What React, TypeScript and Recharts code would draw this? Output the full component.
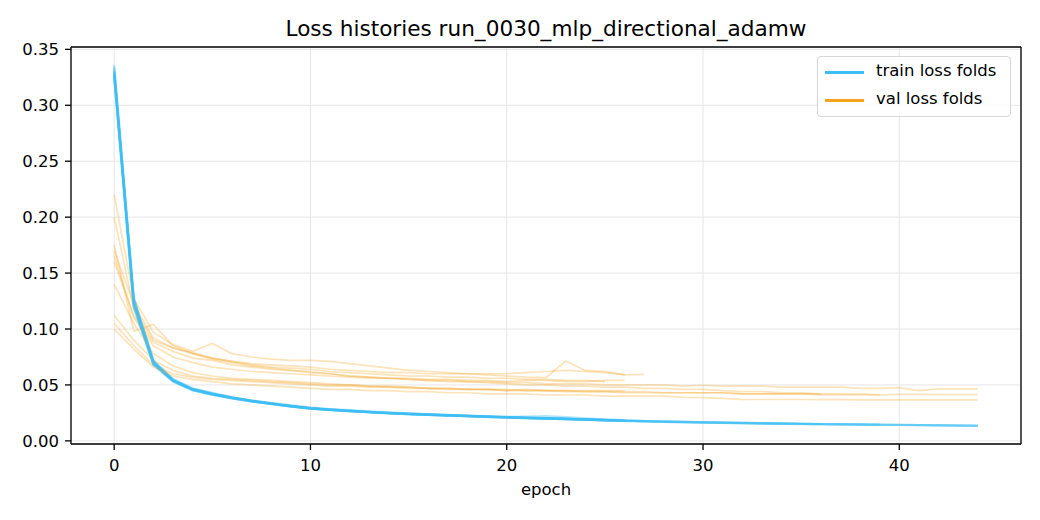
import { LineChart, Line, XAxis, YAxis, CartesianGrid } from "recharts";

const TRAIN_COLOR = "#3dbdf5";
const VAL_COLOR = "#f6a31c";
const FONT = "'DejaVu Sans', sans-serif";

const epochs = Array.from({ length: 45 }, (_, i) => i);
const xTicks = [0, 10, 20, 30, 40];
const yTicks = [0, 0.05, 0.1, 0.15, 0.2, 0.25, 0.3, 0.35];

// train loss per fold (epoch 0 .. last epoch of that fold)
const train01 = [0.334, 0.128, 0.071, 0.055, 0.047, 0.043, 0.039, 0.036, 0.034, 0.032, 0.03, 0.0285, 0.0275, 0.0265, 0.0255, 0.0245, 0.024, 0.0233, 0.0226, 0.022, 0.0214, 0.0208, 0.0203, 0.0198, 0.0193, 0.0188];
const train02 = [0.326, 0.12, 0.068, 0.053, 0.045, 0.041, 0.038, 0.035, 0.033, 0.0305, 0.0287, 0.0275, 0.0265, 0.0256, 0.0246, 0.0238, 0.0232, 0.0226, 0.022, 0.0213, 0.0208, 0.0203, 0.0199, 0.0195, 0.019, 0.0184, 0.018];
const train03 = [0.33, 0.124, 0.07, 0.054, 0.046, 0.042, 0.0385, 0.0358, 0.0333, 0.031, 0.0292, 0.028, 0.027, 0.026, 0.025, 0.0243, 0.0237, 0.023, 0.0225, 0.022, 0.0215, 0.0218, 0.0222, 0.0212, 0.0202, 0.0193, 0.0186];
const train04 = [0.328, 0.126, 0.072, 0.055, 0.046, 0.042, 0.0388, 0.036, 0.0336, 0.0312, 0.0293, 0.0279, 0.0268, 0.0258, 0.0249, 0.0241, 0.0235, 0.0229, 0.0223, 0.0217, 0.0211, 0.0206, 0.0201, 0.0196, 0.0191, 0.0186, 0.0181];
const train05 = [0.332, 0.122, 0.069, 0.0535, 0.0455, 0.0415, 0.038, 0.0352, 0.033, 0.0308, 0.029, 0.0277, 0.0266, 0.0256, 0.0247, 0.0239, 0.0232, 0.0226, 0.022, 0.0214, 0.0209, 0.0204, 0.0199, 0.0194, 0.0189, 0.0184, 0.018, 0.0176];
const train06 = [0.329, 0.125, 0.07, 0.054, 0.046, 0.042, 0.0384, 0.0356, 0.0332, 0.031, 0.029, 0.0278, 0.0267, 0.0257, 0.0248, 0.024, 0.0234, 0.0228, 0.0222, 0.0216, 0.021, 0.0205, 0.02, 0.0195, 0.019, 0.0184, 0.018, 0.0176, 0.0172, 0.0169, 0.0166, 0.0163, 0.016, 0.0158, 0.0155, 0.0153, 0.0151];
const train07 = [0.327, 0.121, 0.069, 0.0538, 0.0458, 0.0418, 0.0383, 0.0355, 0.0331, 0.0309, 0.0289, 0.0277, 0.0266, 0.0256, 0.0247, 0.0239, 0.0233, 0.0227, 0.0221, 0.0215, 0.021, 0.0205, 0.0201, 0.0197, 0.0193, 0.0188, 0.0183, 0.0178, 0.0174, 0.017, 0.0167, 0.0164, 0.0161, 0.0158, 0.0156, 0.0153, 0.0151, 0.0149, 0.0147, 0.0145];
const train08 = [0.331, 0.123, 0.07, 0.054, 0.046, 0.0419, 0.0386, 0.0357, 0.0334, 0.0311, 0.0291, 0.0279, 0.0268, 0.0258, 0.0249, 0.0241, 0.0235, 0.0229, 0.0223, 0.0217, 0.0211, 0.0206, 0.0201, 0.0196, 0.0191, 0.0185, 0.0179, 0.0174, 0.017, 0.0167, 0.0164, 0.0161, 0.0158, 0.0156, 0.0154, 0.0152, 0.015, 0.0148, 0.0146, 0.0144, 0.0143, 0.0141, 0.0139, 0.0137, 0.0135];
const train09 = [0.325, 0.119, 0.068, 0.0532, 0.0452, 0.0413, 0.0381, 0.0354, 0.0331, 0.0309, 0.0289, 0.0276, 0.0265, 0.0255, 0.0246, 0.0238, 0.0232, 0.0226, 0.022, 0.0214, 0.0209, 0.0204, 0.0199, 0.0194, 0.0189, 0.0183, 0.0178, 0.0173, 0.0169, 0.0166, 0.0163, 0.016, 0.0157, 0.0155, 0.0152, 0.015, 0.0148, 0.0146, 0.0145, 0.0143, 0.0142, 0.014, 0.0138, 0.0136, 0.0134];
const train10 = [0.336, 0.127, 0.071, 0.0545, 0.0465, 0.0425, 0.039, 0.036, 0.0336, 0.0314, 0.0294, 0.0281, 0.027, 0.026, 0.0251, 0.0243, 0.0236, 0.023, 0.0224, 0.0218, 0.0213, 0.0208, 0.0203, 0.0198, 0.0193, 0.0187, 0.0181, 0.0176, 0.0172, 0.0169, 0.0166, 0.0163, 0.016, 0.0157, 0.0155, 0.0153, 0.0151, 0.0149, 0.0147, 0.0145, 0.0144, 0.0142, 0.014, 0.0138, 0.0136];

// validation loss per fold
const val01 = [0.175, 0.098, 0.104, 0.085, 0.078, 0.074, 0.071, 0.068, 0.066, 0.065, 0.064, 0.062, 0.061, 0.06, 0.059, 0.058, 0.058, 0.057, 0.057, 0.056, 0.056, 0.055, 0.055, 0.054, 0.054, 0.053];
const val02 = [0.22, 0.127, 0.097, 0.086, 0.08, 0.087, 0.078, 0.075, 0.073, 0.072, 0.072, 0.071, 0.069, 0.067, 0.065, 0.063, 0.062, 0.061, 0.06, 0.059, 0.058, 0.057, 0.0566, 0.0714, 0.063, 0.062, 0.059];
const val03 = [0.16, 0.112, 0.088, 0.08, 0.074, 0.072, 0.068, 0.066, 0.064, 0.063, 0.061, 0.06, 0.058, 0.057, 0.056, 0.056, 0.055, 0.055, 0.054, 0.054, 0.053, 0.054, 0.054, 0.053, 0.053, 0.054, 0.054];
const val04 = [0.105, 0.085, 0.068, 0.06, 0.057, 0.055, 0.054, 0.053, 0.052, 0.051, 0.05, 0.049, 0.049, 0.048, 0.048, 0.047, 0.047, 0.046, 0.046, 0.046, 0.045, 0.046, 0.045, 0.045, 0.045, 0.045, 0.045];
const val05 = [0.2, 0.118, 0.09, 0.083, 0.079, 0.074, 0.071, 0.069, 0.068, 0.067, 0.066, 0.064, 0.063, 0.062, 0.061, 0.061, 0.06, 0.06, 0.06, 0.06, 0.06, 0.061, 0.062, 0.063, 0.062, 0.061, 0.059, 0.0595];
const val06 = [0.17, 0.122, 0.092, 0.083, 0.078, 0.073, 0.07, 0.067, 0.065, 0.063, 0.062, 0.06, 0.058, 0.057, 0.056, 0.055, 0.054, 0.053, 0.053, 0.052, 0.051, 0.05, 0.05, 0.049, 0.049, 0.048, 0.048, 0.047, 0.047, 0.046, 0.046, 0.045, 0.044, 0.044, 0.043, 0.043, 0.042];
const val07 = [0.112, 0.09, 0.072, 0.063, 0.058, 0.056, 0.055, 0.054, 0.053, 0.052, 0.051, 0.05, 0.05, 0.049, 0.048, 0.048, 0.047, 0.047, 0.046, 0.046, 0.046, 0.045, 0.045, 0.045, 0.044, 0.044, 0.044, 0.044, 0.043, 0.043, 0.043, 0.043, 0.042, 0.042, 0.042, 0.042, 0.041, 0.041, 0.041, 0.041];
const val08 = [0.165, 0.11, 0.085, 0.075, 0.07, 0.066, 0.064, 0.062, 0.061, 0.06, 0.059, 0.058, 0.057, 0.056, 0.056, 0.055, 0.054, 0.054, 0.053, 0.053, 0.052, 0.052, 0.051, 0.051, 0.051, 0.05, 0.05, 0.05, 0.05, 0.049, 0.0497, 0.049, 0.049, 0.049, 0.048, 0.048, 0.048, 0.048, 0.047, 0.047, 0.0476, 0.045, 0.0465, 0.0465, 0.0464];
const val09 = [0.14, 0.105, 0.078, 0.067, 0.061, 0.058, 0.056, 0.055, 0.054, 0.053, 0.052, 0.051, 0.05, 0.049, 0.049, 0.048, 0.047, 0.047, 0.046, 0.046, 0.045, 0.045, 0.045, 0.044, 0.044, 0.044, 0.043, 0.043, 0.043, 0.043, 0.043, 0.043, 0.042, 0.042, 0.042, 0.042, 0.042, 0.042, 0.042, 0.041, 0.0415, 0.0415, 0.0414, 0.0414, 0.0414];
const val10 = [0.1, 0.082, 0.066, 0.058, 0.055, 0.053, 0.051, 0.05, 0.049, 0.048, 0.047, 0.046, 0.046, 0.045, 0.045, 0.044, 0.044, 0.043, 0.043, 0.042, 0.042, 0.042, 0.041, 0.041, 0.041, 0.04, 0.04, 0.04, 0.04, 0.039, 0.0387, 0.038, 0.037, 0.037, 0.037, 0.037, 0.0368, 0.0368, 0.0367, 0.0367, 0.0367, 0.0366, 0.0366, 0.0366, 0.0366];

const trainFolds = [train01, train02, train03, train04, train05, train06, train07, train08, train09, train10];
const valFolds = [val01, val02, val03, val04, val05, val06, val07, val08, val09, val10];

const rows = epochs.map((epoch) => {
  const row: Record<string, number> = { epoch };
  trainFolds.forEach((fold, i) => {
    if (epoch < fold.length) row[`train${i}`] = fold[epoch];
  });
  valFolds.forEach((fold, i) => {
    if (epoch < fold.length) row[`val${i}`] = fold[epoch];
  });
  return row;
});

const tickStyle = { fontFamily: FONT, fontSize: 16.5, fill: "#000" };
const frameLine = { stroke: "#000", strokeWidth: 1.3 };

const Legend = () => (
  <div
    style={{
      position: "absolute",
      left: 817,
      top: 56,
      width: 194,
      height: 61,
      border: "1px solid #d6d6d6",
      borderRadius: 4,
      background: "rgba(255,255,255,0.85)",
      fontFamily: FONT,
      fontSize: 16.5,
      color: "#000",
      boxSizing: "border-box",
    }}
  >
    {[
      { label: "train loss folds", color: TRAIN_COLOR, y: 15 },
      { label: "val loss folds", color: VAL_COLOR, y: 43 },
    ].map((item) => (
      <div key={item.label}>
        <div
          style={{
            position: "absolute",
            left: 7,
            top: item.y - 1.5,
            width: 39,
            height: 3,
            background: item.color,
          }}
        />
        <div style={{ position: "absolute", left: 58, top: item.y - 11, lineHeight: "20px", whiteSpace: "nowrap" }}>
          {item.label}
        </div>
      </div>
    ))}
  </div>
);

export default function App() {
  return (
    <div style={{ position: "absolute", left: 0, top: 0, width: 1040, height: 520, background: "#fff" }}>
      <div
        style={{
          position: "absolute",
          left: 71,
          width: 950,
          top: 16,
          textAlign: "center",
          fontFamily: FONT,
          fontSize: 21.6,
          lineHeight: "26px",
          color: "#000",
        }}
      >
        Loss histories run_0030_mlp_directional_adamw
      </div>
      <LineChart
        width={1040}
        height={520}
        data={rows}
        margin={{ top: 46, right: 18, bottom: 75, left: 70 }}
      >
        <CartesianGrid stroke="#e6e6e6" strokeWidth={1} />
        <XAxis
          dataKey="epoch"
          type="number"
          domain={[-2.2, 46.2]}
          ticks={xTicks}
          allowDataOverflow
          height={1}
          tickSize={6}
          tickMargin={9}
          tick={tickStyle}
          tickLine={frameLine}
          axisLine={frameLine}
        />
        <XAxis
          xAxisId="top"
          orientation="top"
          type="number"
          domain={[-2.2, 46.2]}
          height={1}
          tick={false}
          tickLine={false}
          axisLine={frameLine}
        />
        <YAxis
          type="number"
          domain={[-0.0028, 0.3521]}
          ticks={yTicks}
          allowDataOverflow
          width={1}
          tickSize={6}
          tickMargin={6}
          tick={tickStyle}
          tickFormatter={(v: number) => v.toFixed(2)}
          tickLine={frameLine}
          axisLine={frameLine}
        />
        <YAxis
          yAxisId="right"
          orientation="right"
          type="number"
          domain={[-0.0028, 0.3521]}
          width={1}
          tick={false}
          tickLine={false}
          axisLine={frameLine}
        />
        {trainFolds.map((_, i) => [
          <Line
            key={`train${i}`}
            dataKey={`train${i}`}
            type="linear"
            stroke={TRAIN_COLOR}
            strokeOpacity={0.4}
            strokeWidth={2.2}
            dot={false}
            activeDot={false}
            isAnimationActive={false}
          />,
          <Line
            key={`val${i}`}
            dataKey={`val${i}`}
            type="linear"
            stroke={VAL_COLOR}
            strokeOpacity={0.3}
            strokeWidth={1.7}
            dot={false}
            activeDot={false}
            isAnimationActive={false}
          />,
        ])}
      </LineChart>
      <div
        style={{
          position: "absolute",
          left: 71,
          width: 950,
          top: 479,
          textAlign: "center",
          fontFamily: FONT,
          fontSize: 16.5,
          lineHeight: "22px",
          color: "#000",
        }}
      >
        epoch
      </div>
      <Legend />
    </div>
  );
}
